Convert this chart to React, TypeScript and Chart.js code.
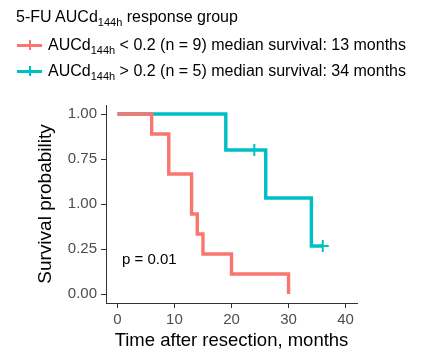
import React, { useEffect, useRef } from "react";
import { Chart, registerables } from "chart.js";

Chart.register(...registerables);

const lowTimes = [0, 6, 9, 13, 14, 15, 20, 30];
const lowSurv = [1, 8 / 9, 6 / 9, 4 / 9, 3 / 9, 2 / 9, 1 / 9, 0];
const highTimes = [0, 19, 26, 34, 36];
const highSurv = [1, 0.8, 0.8 * 2 / 3, 0.8 / 3, 0.8 / 3];
const highCensorTimes = [24, 36];
const highCensorSurv = [0.8, 0.8 / 3];
const yTickValues = [0, 0.25, 0.5, 0.75, 1];
const yTickLabels = ["0.00", "0.25", "1.00", "0.75", "1.00"];
const xTickValues = [0, 10, 20, 30, 40];

const RED = "#F8766D";
const TEAL = "#00BFC4";
const FONT = "'Liberation Sans', Arial, sans-serif";

export default function App() {
  const ref = useRef<HTMLCanvasElement | null>(null);
  useEffect(() => {
    if (!ref.current) return;
    const chart = new Chart(ref.current, {
      type: "line",
      data: {
        datasets: [
          {
            data: lowTimes.map((t, i) => ({ x: t, y: lowSurv[i] })),
            borderColor: RED,
            borderWidth: 3.4,
            stepped: true,
            pointRadius: 0,
            fill: false,
          },
          {
            data: highTimes.map((t, i) => ({ x: t, y: highSurv[i] })),
            borderColor: TEAL,
            borderWidth: 3.4,
            stepped: true,
            pointRadius: 0,
            fill: false,
          },
          {
            data: highCensorTimes.map((t, i) => ({ x: t, y: highCensorSurv[i] })),
            borderColor: TEAL,
            borderWidth: 2,
            showLine: false,
            pointStyle: "cross",
            pointRadius: 6,
          },
        ],
      },
      options: {
        animation: false,
        responsive: false,
        events: [],
        layout: { padding: { left: 0, top: 105, right: 64, bottom: 0 } },
        plugins: { legend: { display: false }, tooltip: { enabled: false } },
        scales: {
          x: {
            type: "linear",
            min: -2,
            max: 42,
            afterFit: (s: any) => { s.height = 51; },
            afterBuildTicks: (s: any) => { s.ticks = xTickValues.map((v) => ({ value: v })); },
            grid: { drawOnChartArea: false, tickLength: 5, color: "#333333", tickColor: "#333333" },
            border: { color: "#333333", width: 1 },
            ticks: { color: "#4D4D4D", font: { family: FONT, size: 15 }, padding: 3, maxRotation: 0 },
            title: {
              display: true,
              text: "Time after resection, months",
              color: "#000000",
              font: { family: FONT, size: 18.5 },
              padding: { top: 0, bottom: 2 },
            },
          },
          y: {
            type: "linear",
            min: -0.05,
            max: 1.05,
            afterFit: (s: any) => { s.width = 106; },
            afterBuildTicks: (s: any) => { s.ticks = yTickValues.map((v) => ({ value: v })); },
            grid: { drawOnChartArea: false, tickLength: 5, color: "#333333", tickColor: "#333333" },
            border: { color: "#333333", width: 1 },
            ticks: {
              color: "#4D4D4D",
              font: { family: FONT, size: 15 },
              padding: 4,
              callback: (v: any) => {
                const idx = yTickValues.indexOf(Number(v));
                return idx >= 0 ? yTickLabels[idx] : "";
              },
            },
            title: {
              display: true,
              text: "Survival probability",
              color: "#000000",
              font: { family: FONT, size: 19 },
              padding: { top: 34, bottom: 0 },
            },
          },
        },
      },
      plugins: [
        {
          id: "ptext",
          afterDatasetsDraw: (c: any) => {
            const ctx = c.ctx;
            const xs = c.scales.x;
            const ys = c.scales.y;
            ctx.save();
            ctx.font = `15px ${FONT}`;
            ctx.fillStyle = "#000000";
            ctx.textAlign = "left";
            ctx.textBaseline = "middle";
            ctx.fillText("p = 0.01", xs.getPixelForValue(0.8), ys.getPixelForValue(0.19));
            ctx.restore();
          },
        },
      ],
    } as any);
    return () => chart.destroy();
  }, []);

  const textStyle: React.CSSProperties = {
    position: "absolute",
    left: 48,
    fontFamily: FONT,
    fontSize: 16,
    color: "#000",
    whiteSpace: "nowrap",
    lineHeight: "18px",
  };
  const subStyle: React.CSSProperties = { fontSize: 11, verticalAlign: "-4px", lineHeight: 0 };
  const key = (color: string, top: number) => (
    <>
      <div style={{ position: "absolute", left: 17, top: top - 1.5, width: 25, height: 3, background: color }} />
      <div style={{ position: "absolute", left: 28.5, top: top - 5, width: 2, height: 10, background: color }} />
    </>
  );

  return (
    <div style={{ position: "absolute", left: 0, top: 0, width: 421, height: 354, background: "#fff" }}>
      <canvas ref={ref} width={421} height={354} style={{ position: "absolute", left: 0, top: 0 }} />
      <div style={{ ...textStyle, left: 16, top: 8 }}>
        5-FU AUCd<span style={subStyle}>144h</span> response group
      </div>
      {key(RED, 45)}
      <div style={{ ...textStyle, top: 36 }}>
        AUCd<span style={subStyle}>144h</span> &lt; 0.2 (n = 9) median survival: 13 months
      </div>
      {key(TEAL, 71)}
      <div style={{ ...textStyle, top: 62 }}>
        AUCd<span style={subStyle}>144h</span> &gt; 0.2 (n = 5) median survival: 34 months
      </div>
    </div>
  );
}
